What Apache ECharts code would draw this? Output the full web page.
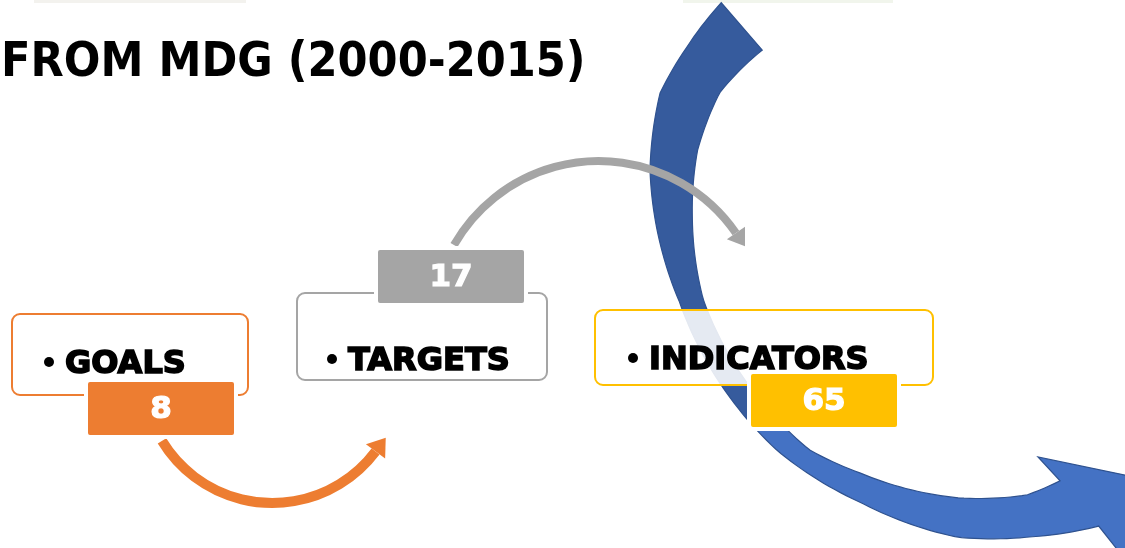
<!DOCTYPE html>
<html>
<head>
<meta charset="utf-8">
<script src="https://cdn.jsdelivr.net/npm/echarts@6/dist/echarts.min.js"></script>
<style>
  html, body { margin: 0; padding: 0; background: #fff; }
  #chart { width: 1125px; height: 548px; }
</style>
</head>
<body>
<div id="chart"></div>
<script>
// data
const stages = ["GOALS", "TARGETS", "INDICATORS"]
const counts = [8, 17, 65]
const titleText = "FROM MDG (2000-2015)"

// styles / layout (page pixels, mapped through a hidden 0..1125 x 0..548 grid)
const stageColors = ["#ED7D31", "#A5A5A5", "#FFC000"]
const cardLayout = [
  { box: [12, 314, 236, 81], tag: [86, 380, 150, 57], textX: 65, textY: 362 },
  { box: [297, 293, 250, 87], tag: [376, 248, 150, 57], textX: 348, textY: 359 },
  { box: [595, 310, 338, 75], tag: [749, 372, 150, 57], textX: 649, textY: 358 }
]

// big blue curved arrow: [angle deg, radius] around its centre
const blueCentre = [1023, 170]
const blueOuter = [[209, 345], [200, 358], [192, 371], [180, 373], [159, 368], [131, 373], [116, 370], [100, 373], [89, 367], [78, 364]]
const blueInner = [[204.7, 287], [194.3, 313], [183.5, 326], [171.9, 334], [157.9, 345], [127.3, 352], [118.3, 344], [100.9, 334], [89.3, 325], [83.2, 313]]
const blueSplit = 136.5

const rad = (d) => d * Math.PI / 180

function radiusAt(table, a) {
  if (a >= table[0][0]) return table[0][1]
  for (let k = 0; k < table.length - 1; k++) {
    const [a0, r0] = table[k]
    const [a1, r1] = table[k + 1]
    if (a <= a0 && a >= a1) return r0 + (r1 - r0) * (a0 - a) / (a0 - a1)
  }
  return table[table.length - 1][1]
}

function pt(a, r) {
  return [blueCentre[0] + r * Math.cos(rad(a)), blueCentre[1] + r * Math.sin(rad(a))]
}

function edge(table, from, to) {
  const pts = []
  const step = from > to ? -1 : 1
  for (let a = from; step < 0 ? a > to : a < to; a += step) pts.push(pt(a, radiusAt(table, a)))
  pts.push(pt(to, radiusAt(table, to)))
  return pts
}

const darkBand = edge(blueOuter, 209, blueSplit).concat(edge(blueInner, blueSplit, 204.7))
const lightBand = edge(blueOuter, blueSplit, 78)
  .concat([[1124, 558], [1178, 486], [1038, 457]])
  .concat(edge(blueInner, 83.2, blueSplit))

// thin curved arrows
function arcArrow(cx, cy, r, a0, a1, clockwise, color, width, headLen, headHalf) {
  const e = rad(a1)
  const base = [cx + r * Math.cos(e), cy + r * Math.sin(e)]
  const t = clockwise ? [-Math.sin(e), Math.cos(e)] : [Math.sin(e), -Math.cos(e)]
  const n = [Math.cos(e), Math.sin(e)]
  return [
    {
      type: "arc", z: 1, silent: true,
      shape: { cx, cy, r, startAngle: rad(a0), endAngle: rad(a1), clockwise },
      style: { stroke: color, lineWidth: width, fill: null }
    },
    {
      type: "polygon", z: 1, silent: true,
      shape: { points: [
        [base[0] + headLen * t[0], base[1] + headLen * t[1]],
        [base[0] + headHalf * n[0], base[1] + headHalf * n[1]],
        [base[0] - headHalf * n[0], base[1] - headHalf * n[1]]
      ] },
      style: { fill: color }
    }
  ]
}

function renderCard(params, api) {
  const i = api.value(0)
  const L = cardLayout[i]
  const color = stageColors[i]
  const bp = api.coord([L.box[0], L.box[1]])
  const bs = api.size([L.box[2], L.box[3]])
  const tp = api.coord([L.tag[0], L.tag[1]])
  const ts = api.size([L.tag[2], L.tag[3]])
  const txt = api.coord([L.textX, L.textY])
  return {
    type: "group",
    children: [
      {
        type: "rect",
        shape: { x: bp[0], y: bp[1], width: bs[0], height: bs[1], r: 8 },
        style: { fill: "rgba(255,255,255,0.87)", stroke: color, lineWidth: 2 }
      },
      {
        type: "circle",
        shape: { cx: txt[0] - 16, cy: txt[1], r: 5 },
        style: { fill: "#000" }
      },
      {
        type: "text",
        style: {
          x: txt[0], y: txt[1] + 3, text: stages[i],
          font: "bold 32px 'DejaVu Sans'", fill: "#000",
          stroke: "#000", lineWidth: 1.6,
          align: "left", verticalAlign: "middle"
        }
      },
      {
        type: "rect",
        shape: { x: tp[0], y: tp[1], width: ts[0], height: ts[1], r: 4 },
        style: { fill: color, stroke: "#fff", lineWidth: 4 }
      },
      {
        type: "text",
        style: {
          x: tp[0] + ts[0] / 2, y: tp[1] + ts[1] / 2 + 1, text: String(api.value(1)),
          font: "bold 31px 'DejaVu Sans'", fill: "#fff",
          stroke: "#fff", lineWidth: 1.2,
          align: "center", verticalAlign: "middle"
        }
      }
    ]
  }
}

const chart = echarts.init(document.getElementById("chart"), null, { renderer: "canvas" })
chart.setOption({
  animation: false,
  backgroundColor: "#fff",
  title: {
    text: titleText, left: 1, top: 40, padding: 0,
    textStyle: { fontFamily: "'DejaVu Sans Condensed'", fontWeight: "bold", fontSize: 48, color: "#000" }
  },
  grid: { left: 0, right: 0, top: 0, bottom: 0 },
  xAxis: { type: "value", min: 0, max: 1125, show: false },
  yAxis: { type: "value", min: 0, max: 548, inverse: true, show: false },
  graphic: [
    { type: "rect", z: 0, silent: true, shape: { x: 34, y: 0, width: 212, height: 3 }, style: { fill: "#F3F2EE" } },
    { type: "rect", z: 0, silent: true, shape: { x: 683, y: 0, width: 210, height: 3 }, style: { fill: "#F1F5EC" } },
    { type: "polygon", z: 0, silent: true, shape: { points: darkBand }, style: { fill: "#365B9D", stroke: "#2F528F", lineWidth: 1.2 } },
    { type: "polygon", z: 0, silent: true, shape: { points: lightBand }, style: { fill: "#4472C4", stroke: "#2F528F", lineWidth: 1.2 } },
    ...arcArrow(598.7, 327.7, 166.7, -150.25, -34.6, true, "#A5A5A5", 8, 16, 11),
    ...arcArrow(272.3, 373.9, 129.1, 148.7, 36.9, false, "#ED7D31", 10, 17, 12)
  ],
  series: [
    {
      type: "custom",
      z: 2,
      silent: true,
      renderItem: renderCard,
      data: stages.map((s, i) => [i, counts[i]])
    }
  ]
})
</script>
</body>
</html>
